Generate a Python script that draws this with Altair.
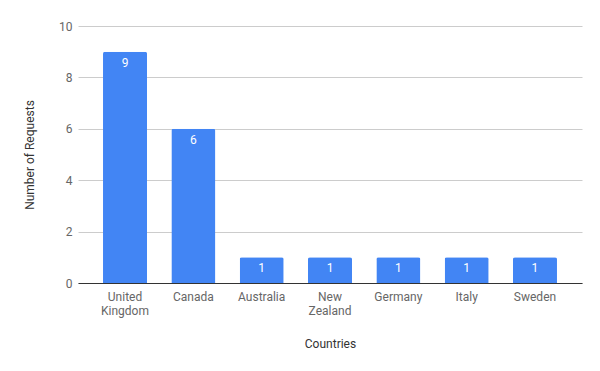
import altair as alt
import pandas as pd

countries = ["United Kingdom", "Canada", "Australia", "New Zealand", "Germany", "Italy", "Sweden"]
requests = [9, 6, 1, 1, 1, 1, 1]

df = pd.DataFrame({"Country": countries, "Requests": requests})

x = alt.X("Country:N", sort=countries, title="Countries",
          scale=alt.Scale(paddingInner=0.356, paddingOuter=0.366),
          axis=alt.Axis(labelAngle=0, labelExpr="split(datum.label, ' ')",
                        labelColor="#666666", labelFontSize=12, labelFont="Roboto",
                        labelPadding=8, labelLineHeight=14,
                        ticks=False, domainColor="#333333", domainWidth=1,
                        titleFont="Roboto", titleFontSize=12, titleFontWeight="normal",
                        titleColor="#333333", titlePadding=22))
y = alt.Y("Requests:Q", title="Number of Requests",
          scale=alt.Scale(domain=[0, 10]),
          axis=alt.Axis(values=[0, 2, 4, 6, 8, 10], domain=False, ticks=False,
                        gridColor="#cccccc", labelColor="#666666", labelFontSize=12,
                        labelFont="Roboto", labelPadding=6,
                        titleFont="Roboto", titleFontSize=12, titleFontWeight="normal",
                        titleColor="#333333", titlePadding=22))

bars = alt.Chart(df).mark_bar(color="#4285F4", cornerRadiusTopLeft=2,
                              cornerRadiusTopRight=2).encode(x=x, y=y)
labels = alt.Chart(df).mark_text(color="white", baseline="top", dy=6,
                                 fontSize=12, font="Roboto").encode(
    x=alt.X("Country:N", sort=countries), y="Requests:Q", text="Requests:Q")

chart = (bars + labels).properties(
    width=504, height=257,
    autosize=alt.AutoSizeParams(type="none"),
    padding={"left": 70, "top": 18, "right": 10, "bottom": 80},
).configure_view(stroke=None)

chart.save("out.html", embed_options={"renderer": "svg", "actions": False})
